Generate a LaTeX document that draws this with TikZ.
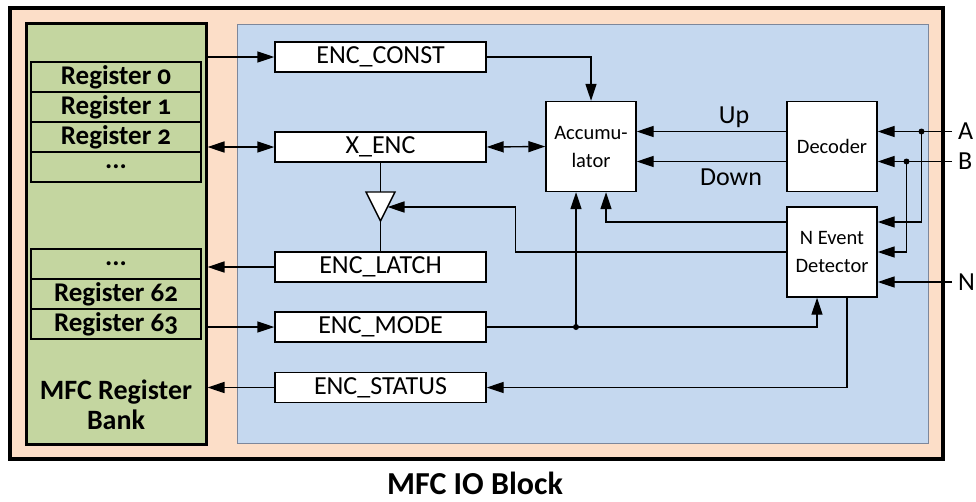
\documentclass[tikz,border=0pt]{standalone}
\usepackage{fontspec}
\setmainfont{Carlito}[Numbers=OldStyle]
\usetikzlibrary{arrows.meta,calc}
\definecolor{peach}{RGB}{252,222,200}
\definecolor{bluebg}{RGB}{197,216,239}
\definecolor{greenbg}{RGB}{196,214,160}
\definecolor{blueedge}{RGB}{125,135,155}
\tikzset{
  arr/.style={line width=1.4pt,-{Triangle[length=17pt,width=11pt]}},
  darr/.style={line width=1.4pt,{Triangle[length=17pt,width=11pt]}-{Triangle[length=17pt,width=11pt]}},
  plain/.style={line width=1.4pt},
  regbox/.style={draw,fill=white,line width=1.4pt,minimum width=211pt,minimum height=30pt,inner sep=0pt,font=\fontsize{26}{28}\selectfont},
  blockbox/.style={draw,fill=white,line width=1.4pt,minimum width=90pt,minimum height=90pt,inner sep=0pt,align=center,font=\fontsize{20.5}{28}\selectfont},
  regrow/.style={draw,line width=2.6pt,fill=greenbg,minimum width=170pt,minimum height=30pt,inner sep=0pt,font=\fontsize{27}{27}\selectfont\bfseries},
  sig/.style={font=\fontsize{26}{28}\selectfont},
  dot/.style={circle,fill=black,inner sep=0pt,minimum size=6pt}
}
\begin{document}
\begin{tikzpicture}[x=1pt,y=-1pt]
\useasboundingbox (0,0) rectangle (976,501);
% frames
\node[draw,line width=3.5pt,fill=peach,minimum width=933pt,minimum height=451pt,inner sep=0pt] (outer) at (476.5,233.5) {};
\node[draw=blueedge,line width=1pt,fill=bluebg,minimum width=691pt,minimum height=419pt,inner sep=0pt] (blue) at (582.5,233.5) {};
\node[draw,line width=3pt,fill=greenbg,minimum width=180pt,minimum height=421pt,inner sep=0pt] (green) at (116,234) {};
% registers
\node[regrow] (r0) at (116,77) {Register 0};
\node[regrow] (r1) at (116,107) {Register 1};
\node[regrow] (r2) at (116,137) {Register 2};
\node[regrow] (rd1) at (116,167) {...};
\node[regrow] (rd2) at (116,264) {...};
\node[regrow] (r62) at (116,294) {Register 62};
\node[regrow] (r63) at (116,324) {Register 63};
\node[align=center,font=\fontsize{28}{30}\selectfont\bfseries] (banklbl) at (116,405) {MFC Register\\Bank};
% blocks
\node[regbox] (encconst) at (380.5,57) {ENC\_CONST};
\node[regbox] (xenc) at (380.5,147) {X\_ENC};
\node[regbox] (enclatch) at (380.5,267) {ENC\_LATCH};
\node[regbox] (encmode) at (380.5,327) {ENC\_MODE};
\node[regbox] (encstatus) at (380.5,387.5) {ENC\_STATUS};
\node[blockbox] (acc) at (591,146.5) {Accumu-\\lator};
\node[blockbox] (dec) at (832,146.5) {Decoder};
\node[blockbox] (ned) at (832,252) {N Event\\Detector};
% latch triangle
\coordinate (triT) at (380.5,192);
\coordinate (triB) at (380.5,221);
\coordinate (triR) at (387.5,207);
\draw[line width=1.4pt,fill=white] (366,192) -- (395,192) -- (triB) -- cycle;
% inputs
\coordinate (inA) at (952,131.5);
\coordinate (inB) at (952,161.5);
\coordinate (inN) at (952,282);
\node[sig,anchor=west,inner sep=0pt] (lA) at (958,131.5) {A};
\node[sig,anchor=west,inner sep=0pt] (lB) at (958,161.5) {B};
\node[sig,anchor=west,inner sep=0pt] (lN) at (958,282) {N};
\node[dot] (dA) at (921.5,131.5) {};
\node[dot] (dB) at (906.5,161.5) {};
\node[dot] (dM) at (576,327) {};
\coordinate (bend) at (515.5,207);
% connectors: register bank
\draw[arr] (green.east |- encconst) -- (encconst.west);
\draw[darr] (green.east |- xenc) -- (xenc.west);
\draw[arr] (enclatch.west) -- (green.east |- enclatch);
\draw[arr] (green.east |- encmode) -- (encmode.west);
\draw[arr] (encstatus.west) -- (green.east |- encstatus);
% connectors: accumulator
\draw[arr] (encconst.east) -| (acc.north);
\draw[darr] (xenc.east) -- (acc.west);
\draw[plain] (xenc.south) -- (triT);
\draw[plain] (triB) -- (enclatch.north);
\draw[arr] ([yshift=15pt]dec.west) -- ([yshift=15pt]acc.east);
\draw[arr] ([yshift=-15pt]dec.west) -- ([yshift=-15pt]acc.east);
\node[sig] (lUp) at (734,117) {Up};
\node[sig] (lDown) at (731,177) {Down};
% inputs
\draw[arr] (inA) -- ([yshift=15pt]dec.east);
\draw[arr] (inB) -- ([yshift=-15pt]dec.east);
\draw[arr] (dA.center) |- ([yshift=30pt]ned.east);
\draw[arr] (dB.center) |- (ned.east);
\draw[arr] (inN) -- ([yshift=-30pt]ned.east);
% N event detector outputs
\draw[arr] ([yshift=30pt]ned.west) -| ([xshift=15pt]acc.south);
\draw[arr] (ned.west) -| (bend) -- (triR);
\draw[arr] (encmode.east) -| ([xshift=-15pt]ned.south);
\draw[arr] (dM.center) -- ([xshift=-15pt]acc.south);
\draw[arr] ([xshift=15pt]ned.south) |- (encstatus.east);
% title
\node[font=\fontsize{32}{32}\selectfont\bfseries,anchor=base,inner sep=0pt] (title) at (475,494) {MFC IO Block};
\end{tikzpicture}
\end{document}
